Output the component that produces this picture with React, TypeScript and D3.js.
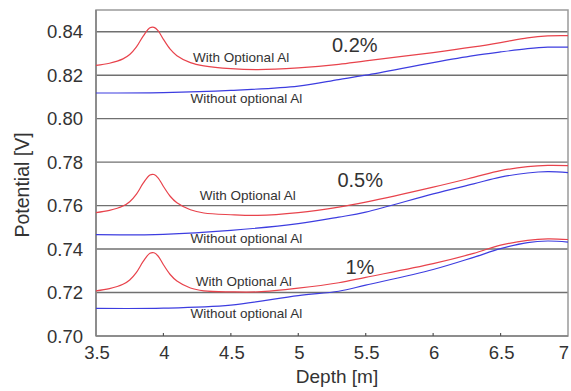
import React from 'react';
import * as d3 from 'd3';

// depth grid for the "with Al" curves (dense around the peak)
const depthWith = [3.5, 3.6, 3.7, 3.75, 3.8, 3.85, 3.9, 3.93, 3.96, 4.0, 4.05, 4.1, 4.2, 4.3, 4.5, 4.7, 5.0, 5.3, 5.5, 6.0, 6.3, 6.5, 6.7, 6.85, 7.0];
const with02 = [0.8245, 0.8255, 0.8275, 0.8295, 0.833, 0.838, 0.8418, 0.842, 0.8405, 0.8365, 0.832, 0.829, 0.8258, 0.8243, 0.823, 0.8226, 0.8234, 0.825, 0.8266, 0.8304, 0.833, 0.835, 0.8372, 0.8381, 0.8382];
const with05 = [0.7568, 0.7578, 0.7598, 0.7618, 0.7653, 0.7703, 0.7741, 0.7743, 0.7728, 0.7688, 0.7643, 0.7613, 0.7581, 0.7566, 0.7558, 0.7555, 0.7568, 0.7593, 0.7616, 0.7685, 0.773, 0.7761, 0.7779, 0.7785, 0.7784];
const with1 = [0.7208, 0.7218, 0.7238, 0.7258, 0.7293, 0.7343, 0.7381, 0.7383, 0.7368, 0.7328, 0.7283, 0.7253, 0.7221, 0.7208, 0.7203, 0.7203, 0.722, 0.7245, 0.727, 0.7333, 0.738, 0.7418, 0.744, 0.7447, 0.7444];

const depthWithout = [3.5, 4.0, 4.5, 5.0, 5.3, 5.5, 6.0, 6.3, 6.5, 6.7, 6.85, 7.0];
const without02 = [0.8118, 0.812, 0.813, 0.815, 0.818, 0.82, 0.8258, 0.829, 0.8307, 0.8322, 0.8329, 0.8329];
const without05 = [0.7466, 0.7468, 0.7486, 0.7517, 0.7547, 0.757, 0.7654, 0.77, 0.7731, 0.775, 0.7756, 0.7752];
const without1 = [0.7127, 0.7128, 0.7142, 0.7186, 0.7206, 0.7234, 0.7306, 0.7362, 0.7402, 0.743, 0.7437, 0.7432];

const xTicks = [3.5, 4, 4.5, 5, 5.5, 6, 6.5, 7];
const yTicks = [0.7, 0.72, 0.74, 0.76, 0.78, 0.8, 0.82, 0.84];

// annotation text, anchored in data units
const curveLabels = [
  { text: 'With Optional Al', x: 4.22, y: 0.8261 },
  { text: 'Without optional Al', x: 4.2, y: 0.8072 },
  { text: 'With Optional Al', x: 4.27, y: 0.7626 },
  { text: 'Without optional Al', x: 4.2, y: 0.7428 },
  { text: 'With Optional Al', x: 4.24, y: 0.723 },
  { text: 'Without optional Al', x: 4.2, y: 0.7083 },
];
const pctLabels = [
  { text: '0.2%', x: 5.25, y: 0.8307 },
  { text: '0.5%', x: 5.29, y: 0.7686 },
  { text: '1%', x: 5.35, y: 0.7285 },
];

const W = 571;
const H = 391;
const m = { left: 96, right: 3, top: 10, bottom: 55 };

const App = () => {
  const x = d3.scaleLinear().domain([3.5, 7]).range([m.left, W - m.right]);
  const y = d3.scaleLinear().domain([0.7, 0.85]).range([H - m.bottom, m.top]);

  const line = d3.line<[number, number]>()
    .x(d => x(d[0]))
    .y(d => y(d[1]))
    .curve(d3.curveCatmullRom.alpha(0.5));

  const redSeries = [with02, with05, with1].map(v => depthWith.map((d, i) => [d, v[i]] as [number, number]));
  const blueSeries = [without02, without05, without1].map(v => depthWithout.map((d, i) => [d, v[i]] as [number, number]));

  const font = 'Arial, "Liberation Sans", sans-serif';
  const x0 = x(3.5), x1 = x(7), yb = y(0.7), yt = y(0.85);

  return (
    <svg width={W} height={H} style={{ position: 'absolute', left: 0, top: 0, background: '#fff' }} fontFamily={font}>
      {/* grid lines */}
      {yTicks.filter(t => t > 0.7).map(t => (
        <line key={t} x1={x0} x2={x1} y1={y(t)} y2={y(t)} stroke="#707070" strokeWidth={1.4} />
      ))}
      {/* frame */}
      <rect x={x0} y={yt} width={x1 - x0} height={yb - yt} fill="none" stroke="#9a9a9a" strokeWidth={1.5} />
      <line x1={x0} x2={x1} y1={yb} y2={yb} stroke="#808080" strokeWidth={1.5} />
      <line x1={x0} x2={x0} y1={yt} y2={yb} stroke="#808080" strokeWidth={1.5} />
      {/* inward x ticks */}
      {xTicks.slice(1, -1).map(t => (
        <line key={t} x1={x(t)} x2={x(t)} y1={yb} y2={yb - 3} stroke="#555" strokeWidth={1.2} />
      ))}

      {blueSeries.map((s, i) => (
        <path key={'b' + i} d={line(s) || ''} fill="none" stroke="#3d3de0" strokeWidth={1.2} />
      ))}
      {redSeries.map((s, i) => (
        <path key={'r' + i} d={line(s) || ''} fill="none" stroke="#e8434c" strokeWidth={1.2} />
      ))}

      {curveLabels.map((l, i) => (
        <text key={'c' + i} x={x(l.x)} y={y(l.y)} fontSize={13.5} fill="#333">{l.text}</text>
      ))}
      {pctLabels.map((l, i) => (
        <text key={'p' + i} x={x(l.x)} y={y(l.y)} fontSize={20} fill="#333">{l.text}</text>
      ))}

      {/* y tick labels */}
      {yTicks.map(t => (
        <text key={t} x={x0 - 13} y={y(t) + 6.5} fontSize={18.5} fill="#333" textAnchor="end">{t.toFixed(2)}</text>
      ))}
      {/* x tick labels */}
      {xTicks.map(t => (
        <text key={t} x={t === 7 ? x(t) - 4 : x(t) + 1} y={yb + 23} fontSize={18.5} fill="#333" textAnchor="middle">{String(t)}</text>
      ))}

      <text x={337} y={383} fontSize={19} fill="#333" textAnchor="middle">Depth [m]</text>
      <text transform="translate(29,185) rotate(-90)" fontSize={19.5} fill="#333" textAnchor="middle">Potential [V]</text>
    </svg>
  );
};

export default App;
